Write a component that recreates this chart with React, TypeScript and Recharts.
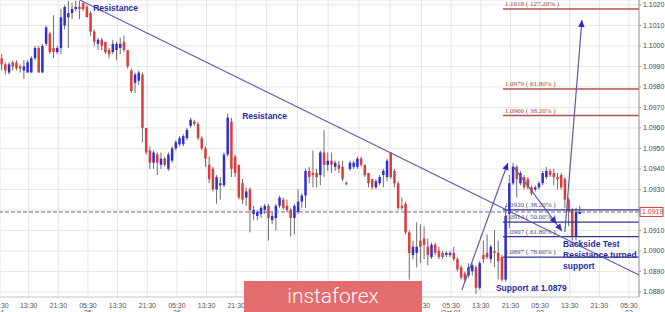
import React from 'react';
import {
  Bar,
  CartesianGrid,
  ComposedChart,
  ReferenceDot,
  ReferenceLine,
  XAxis,
  YAxis,
} from 'recharts';

// hourly EUR/USD candles
const opens = [
  1.0994, 1.0991, 1.0987, 1.0992, 1.0992, 1.099, 1.0988, 1.0987, 1.0987, 1.0994,
  1.0999, 1.0987, 1.1001, 1.1006, 1.0999, 1.0997, 1.0999, 1.101, 1.1014, 1.1016,
  1.1018, 1.1019, 1.1021, 1.1019, 1.1016, 1.1007, 1.1001, 1.1003, 1.1002, 1.0998,
  1.0997, 1.0998, 1.0999, 1.1002, 1.0998, 1.0988, 1.0982, 1.0983, 1.0986, 1.096,
  1.0949, 1.0943, 1.0947, 1.0942, 1.0945, 1.094, 1.0944, 1.095, 1.0952, 1.0952,
  1.0955, 1.0961, 1.0963, 1.0962, 1.0955, 1.095, 1.0942, 1.094, 1.093, 1.0932,
  1.0932, 1.0947, 1.0963, 1.0946, 1.0942, 1.0933, 1.0926, 1.093, 1.0918, 1.0917,
  1.0918, 1.092, 1.0922, 1.0915, 1.0916, 1.0922, 1.0925, 1.0922, 1.092, 1.0916,
  1.0919, 1.0924, 1.0927, 1.0939, 1.0938, 1.0938, 1.0937, 1.0948, 1.0942, 1.0944,
  1.0941, 1.0942, 1.0941, 1.0933, 1.094, 1.0941, 1.0941, 1.0945, 1.0942, 1.0938,
  1.0935, 1.0931, 1.0933, 1.0937, 1.0936, 1.0948, 1.0939, 1.0933, 1.0922, 1.0923,
  1.0909, 1.0898, 1.0899, 1.0905, 1.0906, 1.0902, 1.0897, 1.0903, 1.09, 1.0899,
  1.0898, 1.0898, 1.0899, 1.0896, 1.0892, 1.0889, 1.0888, 1.089, 1.0892, 1.0882,
  1.0898, 1.0899, 1.0896, 1.09, 1.0899, 1.0897, 1.0886, 1.0918, 1.0933, 1.0941,
  1.0933, 1.0936, 1.0935, 1.0931, 1.093, 1.0931, 1.0933, 1.0936, 1.0939, 1.0938,
  1.0936, 1.0937, 1.0935, 1.0925, 1.092, 1.0907, 1.0918,
];

const highs = [
  1.0996, 1.0992, 1.0992, 1.0993, 1.0993, 1.0991, 1.0993, 1.0993, 1.0995, 1.1,
  1.1, 1.1001, 1.101, 1.1007, 1.1015, 1.1, 1.1018, 1.102, 1.1022, 1.1021,
  1.1022, 1.1022, 1.1021, 1.102, 1.1017, 1.1008, 1.1004, 1.1004, 1.1002, 1.0999,
  1.1003, 1.1002, 1.1004, 1.1005, 1.0998, 1.0989, 1.0987, 1.0988, 1.0987, 1.096,
  1.0951, 1.0949, 1.0948, 1.0948, 1.0946, 1.0948, 1.0951, 1.0954, 1.0956, 1.0957,
  1.096, 1.0965, 1.0964, 1.0963, 1.0956, 1.0951, 1.0946, 1.0941, 1.0937, 1.0936,
  1.0948, 1.0967, 1.0965, 1.0947, 1.0942, 1.0935, 1.0931, 1.0931, 1.0922, 1.092,
  1.0922, 1.0923, 1.0923, 1.0919, 1.0923, 1.0927, 1.0926, 1.0925, 1.0921, 1.0923,
  1.093, 1.0928, 1.094, 1.0941, 1.0949, 1.094, 1.0949, 1.0959, 1.0948, 1.0948,
  1.0944, 1.0944, 1.0944, 1.0934, 1.0944, 1.0944, 1.0946, 1.0946, 1.0942, 1.0938,
  1.0935, 1.0935, 1.0937, 1.094, 1.0945, 1.0948, 1.094, 1.0934, 1.0926, 1.0924,
  1.091, 1.0905, 1.0914, 1.0913, 1.0912, 1.0906, 1.0904, 1.0904, 1.0902, 1.09,
  1.09, 1.09, 1.0902, 1.0897, 1.0893, 1.089, 1.0894, 1.0894, 1.0893, 1.0895,
  1.0905, 1.0908, 1.0903, 1.091, 1.0905, 1.0898, 1.0922, 1.0937, 1.0943, 1.0942,
  1.0939, 1.0937, 1.0936, 1.0932, 1.0932, 1.0934, 1.0939, 1.0941, 1.094, 1.094,
  1.0938, 1.0938, 1.0936, 1.0926, 1.0921, 1.0921, 1.0922,
];

const lows = [
  1.0988, 1.0986, 1.0986, 1.0988, 1.0988, 1.0987, 1.0984, 1.0987, 1.0987, 1.0993,
  1.0987, 1.0987, 1.1, 1.0996, 1.0994, 1.0996, 1.0996, 1.1008, 1.0999, 1.1013,
  1.1017, 1.1013, 1.1017, 1.1014, 1.1005, 1.1, 1.0998, 1.0998, 1.0996, 1.0994,
  1.0996, 1.0993, 1.0996, 1.0997, 1.0989, 1.0977, 1.0977, 1.0981, 1.0953, 1.0947,
  1.094, 1.094, 1.0937, 1.094, 1.0941, 1.0939, 1.0943, 1.0949, 1.0951, 1.0951,
  1.0954, 1.096, 1.0961, 1.0954, 1.0949, 1.0941, 1.0933, 1.0929, 1.0923, 1.0925,
  1.0931, 1.0946, 1.0936, 1.0936, 1.0925, 1.0923, 1.0922, 1.0909, 1.0915, 1.0915,
  1.0916, 1.0918, 1.0905, 1.0913, 1.091, 1.0921, 1.092, 1.0919, 1.0907, 1.0908,
  1.0918, 1.0921, 1.0921, 1.0933, 1.0931, 1.0931, 1.0932, 1.0936, 1.0939, 1.0938,
  1.0939, 1.0938, 1.0934, 1.0932, 1.0939, 1.094, 1.094, 1.0941, 1.0936, 1.0931,
  1.093, 1.093, 1.0932, 1.0931, 1.0934, 1.0935, 1.0931, 1.092, 1.092, 1.0908,
  1.0886, 1.0896, 1.0892, 1.0894, 1.0896, 1.0893, 1.0896, 1.0898, 1.0896, 1.0896,
  1.0897, 1.0897, 1.0895, 1.089, 1.0886, 1.0885, 1.0887, 1.0888, 1.0879, 1.0881,
  1.0894, 1.0896, 1.0894, 1.0892, 1.0886, 1.0885, 1.0885, 1.0911, 1.0932, 1.0926,
  1.0932, 1.093, 1.093, 1.0927, 1.0929, 1.093, 1.0932, 1.0935, 1.0936, 1.0932,
  1.093, 1.093, 1.0921, 1.0912, 1.0905, 1.0905, 1.0918,
];

const closes = [
  1.0991, 1.0988, 1.0991, 1.099, 1.0989, 1.0989, 1.099, 1.0992, 1.0994, 1.0999,
  1.0987, 1.1, 1.1009, 1.0997, 1.0997, 1.0999, 1.1014, 1.1019, 1.1016, 1.1018,
  1.1019, 1.1018, 1.1018, 1.1014, 1.1007, 1.1002, 1.1003, 1.1, 1.0997, 1.0996,
  1.1001, 1.1001, 1.1001, 1.0998, 1.099, 1.0978, 1.0986, 1.0987, 1.096, 1.0948,
  1.0943, 1.0948, 1.0943, 1.0945, 1.0942, 1.0947, 1.095, 1.0953, 1.0955, 1.0956,
  1.0959, 1.0964, 1.0962, 1.0955, 1.095, 1.0945, 1.0935, 1.093, 1.0936, 1.0933,
  1.0947, 1.0965, 1.094, 1.0938, 1.0926, 1.0925, 1.0929, 1.092, 1.092, 1.0919,
  1.0921, 1.0922, 1.0916, 1.0917, 1.0922, 1.0926, 1.0921, 1.092, 1.0916, 1.0922,
  1.0924, 1.0927, 1.0939, 1.0936, 1.0937, 1.0936, 1.0948, 1.0942, 1.0944, 1.0942,
  1.0943, 1.094, 1.0935, 1.0933, 1.0943, 1.0943, 1.0945, 1.0942, 1.0937, 1.0933,
  1.0931, 1.0934, 1.0936, 1.0939, 1.0944, 1.0936, 1.0933, 1.0921, 1.0921, 1.0909,
  1.0899, 1.0902, 1.0902, 1.0902, 1.0903, 1.0898, 1.0903, 1.0899, 1.0897, 1.0897,
  1.0899, 1.0899, 1.0896, 1.0891, 1.0887, 1.0886, 1.0892, 1.0893, 1.0882, 1.0894,
  1.0896, 1.0897, 1.0902, 1.0899, 1.0895, 1.0886, 1.0917, 1.0933, 1.0941, 1.0935,
  1.0938, 1.0931, 1.0931, 1.0928, 1.0931, 1.0933, 1.0938, 1.0939, 1.0937, 1.0936,
  1.0935, 1.0931, 1.0925, 1.0919, 1.0907, 1.0919, 1.0919,
];

// time axis (candle index), labels every 8 hours
const timeTicks = [
  -0.54, 7.2, 15.2, 23.2, 31.2, 39.2, 47.2, 55.2, 63.2, 71.4, 79.7,
  88, 96.3, 104.7, 113.2, 121.2, 129.2, 137.2, 145.2, 153.2, 161.2, 169.2,
];
const timeLabels = [
  '05:30', '13:30', '21:30', '05:30', '13:30', '21:30', '05:30', '13:30', '21:30', '05:30', '13:30',
  '21:30', '05:30', '13:30', '21:30', '05:30', '13:30', '21:30', '05:30', '13:30', '21:30', '05:30',
];
const dateLabels = [
  '24', '', '', '25', '', '', '26', '', '', '27', '',
  '', '30', '', '', 'Oct 01', '', '', '02', '', '', '03',
];

const priceTicks = [
  1.088, 1.089, 1.09, 1.091, 1.092, 1.093, 1.094, 1.095, 1.096, 1.097, 1.098, 1.099, 1.1, 1.101,
  1.102,
];

// fibonacci levels
const extLevels = [1.1018, 1.0979, 1.0966];
const extLabels = ['1.1018 ( 127.20% )', '1.0979 ( 61.80% )', '1.0966 ( 38.20% )'];
const retLevels = [1.092, 1.0914, 1.0907, 1.0897];
const retLabels = ['1.0920 ( 38.20% )', '1.0914 ( 50.00% )', '1.0907 ( 61.80% )', '1.0897 ( 78.60% )'];
const fibStart = 135.2;
const lastPrice = 1.0919;

// drawn trend lines / arrows: [x1, y1, x2, y2]
const resistanceLine = [21, 1.10224, 171.9, 1.08882];
const arrowLines = [
  [124.1, 1.08809, 136.5, 1.09429],
  [137.9, 1.09414, 151.1, 1.09097],
  [151.9, 1.09092, 156.5, 1.10126],
];
const arrowHeads = [[0], [0, 9], [0]];

// text notes: anchor (candle index, price) and lines
const noteX = [24.6, 64.8, 133.3, 151.4];
const noteY = [1.1017, 1.09643, 1.08804, 1.09019];
const noteText = [['Resistance'], ['Resistance'], ['Support at 1.0879'], ['Backside Test', 'Resistance turned', 'support']];

const X_MIN = -0.54;
const X_MAX = 171.9;
const Y_MIN = 1.08775;
const Y_MAX = 1.10224;

const BLUE = '#2e2ed2';
const RED = '#dc3c3c';
const WICK = '#6e6e6e';
const NAVY = '#2b2b9e';
const LINE = '#5c5cab';

const candles = opens.map((open, i) => ({
  i,
  open,
  high: highs[i],
  low: lows[i],
  close: closes[i],
}));

function Candle(props: any) {
  const { x, y, width, height, payload } = props;
  if (x == null || y == null) return null;
  const { open, close, high, low } = payload;
  const cx = x + width / 2;
  const top = Math.min(y, y + height);
  const h = Math.abs(height);
  const span = high - low;
  const toY = (v: number) => (span > 0 ? top + ((high - v) / span) * h : top);
  const yo = toY(open);
  const yc = toY(close);
  const color = close > open ? BLUE : close < open ? RED : '#444';
  const bodyTop = Math.min(yo, yc);
  const bodyH = Math.max(Math.abs(yo - yc), 1);
  return (
    <g>
      <line x1={cx} x2={cx} y1={top} y2={top + h} stroke={WICK} strokeWidth={1} />
      <rect x={cx - 1.25} y={bodyTop} width={2.5} height={bodyH} fill={color} />
    </g>
  );
}

function TimeTick(props: any) {
  const { x, y, payload } = props;
  const idx = timeTicks.indexOf(payload.value);
  return (
    <g>
      <text x={x} y={y + 10.5} textAnchor="middle" fontSize={7} fill="#555" fontFamily="Liberation Sans, Arial">
        {timeLabels[idx]}
      </text>
      <text x={x} y={y + 18} textAnchor="middle" fontSize={7} fill="#555" fontFamily="Liberation Sans, Arial">
        {dateLabels[idx]}
      </text>
    </g>
  );
}

const arrowShape = (heads: number[]) => (p: any) => {
  const { x1, y1, x2, y2 } = p;
  const dx = x2 - x1;
  const dy = y2 - y1;
  const len = Math.hypot(dx, dy) || 1;
  const ux = dx / len;
  const uy = dy / len;
  return (
    <g>
      <line x1={x1} y1={y1} x2={x2} y2={y2} stroke={LINE} strokeWidth={1.2} />
      {heads.map((back) => {
        const tx = x2 - ux * back;
        const ty = y2 - uy * back;
        const bx = tx - ux * 7;
        const by = ty - uy * 7;
        const px = -uy * 3.2;
        const py = ux * 3.2;
        return (
          <polygon
            key={back}
            points={`${tx},${ty} ${bx + px},${by + py} ${bx - px},${by - py}`}
            fill="#2a2ac8"
          />
        );
      })}
    </g>
  );
};

export default function App() {
  return (
    <div style={{ position: 'relative', width: 665, height: 312, background: '#fff', overflow: 'hidden' }}>
      <style>{'body{margin:0}'}</style>
      <ComposedChart width={665} height={312} data={candles} margin={{ top: 0, right: 0, bottom: 0, left: 0 }}>
        <CartesianGrid stroke="#e6e6e6" />
        <XAxis
          dataKey="i"
          type="number"
          domain={[X_MIN, X_MAX]}
          allowDataOverflow
          ticks={timeTicks}
          interval={0}
          height={15}
          tickSize={0}
          tickMargin={0}
          axisLine={{ stroke: '#cfcfcf' }}
          tick={(p: any) => <TimeTick {...p} />}
        />
        <YAxis
          orientation="right"
          type="number"
          domain={[Y_MIN, Y_MAX]}
          allowDataOverflow
          ticks={priceTicks}
          interval={0}
          width={26}
          tickSize={2}
          tickMargin={2}
          axisLine={{ stroke: '#999' }}
          tickLine={{ stroke: '#999' }}
          tick={{ fontSize: 7, fill: '#444', fontFamily: 'Liberation Sans, Arial' }}
          tickFormatter={(v: number) => (Math.abs(v - lastPrice) < 0.0002 ? '' : v.toFixed(4))}
        />
        <Bar
          dataKey={(d: any) => [d.low, d.high]}
          barSize={3}
          isAnimationActive={false}
          shape={(p: any) => <Candle {...p} />}
        />
        <ReferenceLine y={lastPrice} stroke="#6262ae" strokeDasharray="4 2" ifOverflow="visible" />
        {extLevels.map((lv) => (
          <ReferenceLine
            key={`e${lv}`}
            segment={[{ x: fibStart, y: lv }, { x: X_MAX, y: lv }]}
            stroke="#b05252"
            strokeWidth={1.5}
            ifOverflow="visible"
          />
        ))}
        {retLevels.map((lv) => (
          <ReferenceLine
            key={`r${lv}`}
            segment={[{ x: fibStart, y: lv }, { x: X_MAX, y: lv }]}
            stroke="#35358a"
            strokeWidth={1.2}
            ifOverflow="visible"
          />
        ))}
        {extLevels.map((lv, k) => (
          <ReferenceDot
            key={`el${lv}`}
            x={fibStart + 0.5}
            y={lv}
            r={0}
            ifOverflow="visible"
            shape={(p: any) => (
              <text x={p.cx} y={p.cy - 3} fontSize={7} fill="#a04848" fontFamily="Liberation Serif, serif">
                {extLabels[k]}
              </text>
            )}
          />
        ))}
        {retLevels.map((lv, k) => (
          <ReferenceDot
            key={`rl${lv}`}
            x={fibStart + 0.5}
            y={lv}
            r={0}
            ifOverflow="visible"
            shape={(p: any) => (
              <text x={p.cx} y={p.cy - 3} fontSize={7} fill="#4a4a82" fontFamily="Liberation Serif, serif">
                {retLabels[k]}
              </text>
            )}
          />
        ))}
        <ReferenceLine
          segment={[
            { x: resistanceLine[0], y: resistanceLine[1] },
            { x: resistanceLine[2], y: resistanceLine[3] },
          ]}
          stroke={LINE}
          strokeWidth={1.1}
          ifOverflow="visible"
        />
        {arrowLines.map((a, k) => (
          <ReferenceLine
            key={`a${k}`}
            segment={[{ x: a[0], y: a[1] }, { x: a[2], y: a[3] }]}
            ifOverflow="visible"
            shape={arrowShape(arrowHeads[k])}
          />
        ))}
        {noteX.map((nx, k) => (
          <ReferenceDot
            key={`n${k}`}
            x={nx}
            y={noteY[k]}
            r={0}
            ifOverflow="visible"
            shape={(p: any) => (
              <text x={p.cx} y={p.cy} fontSize={8.5} fontWeight="bold" fill={NAVY} fontFamily="Liberation Sans, Arial">
                {noteText[k].map((t, j) => (
                  <tspan key={j} x={p.cx} dy={j === 0 ? 0 : 11}>
                    {t}
                  </tspan>
                ))}
              </text>
            )}
          />
        ))}
        <ReferenceDot
          x={X_MAX}
          y={lastPrice}
          r={0}
          ifOverflow="visible"
          shape={(p: any) => (
            <g>
              <rect x={p.cx + 1} y={p.cy - 4.5} width={23} height={9} fill="#fff" stroke="#d04040" />
              <text x={p.cx + 3} y={p.cy + 2.5} fontSize={7} fill="#d04040" fontFamily="Liberation Sans, Arial">
                {lastPrice.toFixed(4)}
              </text>
            </g>
          )}
        />
      </ComposedChart>
      <div
        style={{
          position: 'absolute',
          left: 244,
          top: 281,
          width: 178,
          height: 31,
          background: '#e46c6c',
          color: '#fff',
          fontFamily: 'Roboto, sans-serif',
          fontWeight: 300,
          fontSize: 21,
          lineHeight: '31px',
          textAlign: 'center',
        }}
      >
        instaforex
      </div>
    </div>
  );
}
